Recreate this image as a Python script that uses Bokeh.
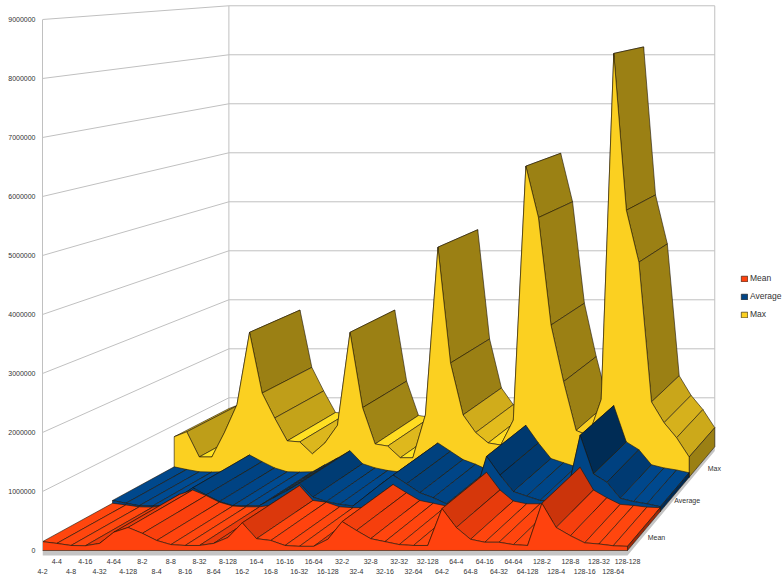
from bokeh.embed import file_html
from bokeh.resources import INLINE
from bokeh.plotting import figure
from bokeh.models import (ColumnDataSource, FixedTicker, Legend, LegendItem, LinearAxis,
                          NumeralTickFormatter, Range1d)
from bokeh.core.properties import value
import numpy as np

bases = [4, 8, 16, 32, 64, 128]
sizes = [2, 4, 8, 16, 32, 64, 128]
categories = [f"{b}-{s}" for b in bases for s in sizes]

mean_values = [150000, 120000, 85000, 80000, 120000, 310000, 390000,
               290000, 170000, 100000, 85000, 85000, 120000, 220000,
               470000, 200000, 170000, 85000, 70000, 70000, 190000,
               490000, 340000, 200000, 150000, 100000, 85000, 85000,
               710000, 390000, 190000, 140000, 140000, 100000, 85000,
               800000, 390000, 250000, 130000, 110000, 80000, 70000]
average_values = [200000, 150000, 105000, 100000, 105000, 270000, 430000,
                  300000, 180000, 105000, 100000, 105000, 240000, 370000,
                  510000, 260000, 180000, 130000, 100000, 290000, 480000,
                  660000, 500000, 340000, 250000, 140000, 100000, 200000,
                  1000000, 660000, 360000, 280000, 200000, 200000, 300000,
                  1380000, 680000, 530000, 240000, 180000, 140000, 87000]
max_values = [780000, 875000, 390000, 390000, 860000, 1400000, 2790000,
              1620000, 1140000, 700000, 680000, 450000, 660000, 1000000,
              2790000, 1340000, 640000, 600000, 375000, 375000, 1200000,
              4430000, 2200000, 1200000, 860000, 660000, 620000, 1100000,
              5990000, 5000000, 2930000, 1840000, 900000, 800000, 1500000,
              8160000, 5140000, 4140000, 1450000, 1050000, 760000, 390000]

series_names = ["Mean", "Average", "Max"]
series_values = [mean_values, average_values, max_values]
series_colors = [(255, 66, 14), (0, 69, 134), (251, 208, 33)]
value_ticks = list(range(0, 10000000, 1000000))

# Perspective: depth runs 0..1 from the front plane to the back wall and pulls
# every point toward one vanishing point, given in front-plane data units.
DEPTH_K = 0.204
VANISH_X = 77.1
VANISH_Y = 10373000
PX_PER_CAT = 14.268
LAST = len(categories) - 1


def project(i, v, d):
    s = 1.0 / (1.0 + DEPTH_K * d)
    return VANISH_X + (i - VANISH_X) * s, VANISH_Y + (v - VANISH_Y) * s


def shaded(rgb, slope):
    """Flat shading of a top face from its drop per category."""
    if slope > 20000:
        k = 0.92
    else:
        k = float(np.interp(-slope, [0, 50000, 230000, 450000, 700000, 1000000],
                            [1.10, 1.05, 0.88, 0.78, 0.64, 0.62]))
    return "#%02x%02x%02x" % tuple(min(255, int(c * k)) for c in rgb)


p = figure(width=784, height=579, output_backend="svg", toolbar_location=None,
           x_range=Range1d(0, (784 - 42) / PX_PER_CAT),
           y_range=Range1d(-101700, 9322000),
           x_axis_location=None, y_axis_location=None,
           min_border_left=42, min_border_right=0, min_border_top=0, min_border_bottom=23)
p.grid.visible = False
p.outline_line_color = None

WALL = "#c0c0c0"
FONT = "Liberation Sans"
INK = "#333333"
EDGE = "#1c1408"

# Side wall and back wall rules
xs, ys = [], []
for t in value_ticks:
    a, b, c = project(0, t, 0), project(0, t, 1), project(LAST, t, 1)
    xs.append([a[0], b[0], c[0]])
    ys.append([a[1], b[1], c[1]])
for i in (0, LAST):
    a, b = project(i, 0, 1), project(i, 9000000, 1)
    xs.append([a[0], b[0]])
    ys.append([a[1], b[1]])
p.multi_line(xs, ys, line_color=WALL, line_width=1)

# Floor slab
THICK = -85000
slab = [project(0, 0, 0), project(LAST, 0, 0), project(LAST, 0, 1),
        project(LAST, THICK, 1), project(LAST, THICK, 0), project(0, THICK, 0)]
p.patch([q[0] for q in slab], [q[1] for q in slab], fill_color="#c4c4c4", line_color=None)

# Series from the rear band to the front band; faces left to right, front wall last
bands = len(series_names)
front_renderers = {}
for n in reversed(range(bands)):
    vals = series_values[n]
    rgb = series_colors[n]
    d0, d1 = n / bands, (n + 1) / bands

    qx, qy, qc = [], [], []
    for i in range(LAST):
        a = project(i, vals[i], d0)
        b = project(i + 1, vals[i + 1], d0)
        c = project(i + 1, vals[i + 1], d1)
        e = project(i, vals[i], d1)
        qx.append([a[0], b[0], c[0], e[0]])
        qy.append([a[1], b[1], c[1], e[1]])
        qc.append(shaded(rgb, vals[i + 1] - vals[i]))
    p.patches("x", "y", fill_color="c", line_color=EDGE, line_width=0.6,
              source=ColumnDataSource(dict(x=qx, y=qy, c=qc)))

    cap = [project(LAST, 0, d0), project(LAST, vals[LAST], d0),
           project(LAST, vals[LAST], d1), project(LAST, 0, d1)]
    p.patch([q[0] for q in cap], [q[1] for q in cap], fill_color=shaded(rgb, -1000000),
            line_color=EDGE, line_width=0.6)

    fx, fy = [project(0, 0, d0)[0]], [project(0, 0, d0)[1]]
    for i in range(LAST + 1):
        q = project(i, vals[i], d0)
        fx.append(q[0])
        fy.append(q[1])
    q = project(LAST, 0, d0)
    fx.append(q[0])
    fy.append(q[1])
    front_renderers[n] = p.patch(fx, fy, fill_color="#%02x%02x%02x" % rgb,
                                 line_color=EDGE, line_width=0.6)

# Value axis along the front edge of the side wall
y_axis = LinearAxis(ticker=FixedTicker(ticks=value_ticks),
                    formatter=NumeralTickFormatter(format="0"),
                    bounds=(0, 9000000), axis_line_color=WALL, axis_line_width=1,
                    major_tick_line_color=None, minor_tick_line_color=None,
                    major_tick_out=0, major_tick_in=0, minor_tick_out=0, minor_tick_in=0,
                    major_label_standoff=7, major_label_text_font=FONT,
                    major_label_text_font_size="7px", major_label_text_color=INK)
p.add_layout(y_axis, "left")

# Category labels alternate between two rows
for start, standoff in ((1, 2), (0, 2)):
    ticks = list(range(start, LAST + 1, 2))
    axis = LinearAxis(ticker=FixedTicker(ticks=ticks),
                      major_label_overrides={t: categories[t] for t in ticks},
                      axis_line_color=None, major_tick_line_color=None,
                      minor_tick_line_color=None,
                      major_tick_out=0, major_tick_in=0, minor_tick_out=0, minor_tick_in=0,
                      major_label_standoff=standoff,
                      major_label_text_font=FONT, major_label_text_font_size="7px",
                      major_label_text_color=INK)
    p.add_layout(axis, "below")

# Depth axis names beside the floor
tx, ty = [], []
for n in range(bands):
    q = project(LAST, 0, (n + 0.5) / bands)
    tx.append(q[0])
    ty.append(q[1])
p.text(tx, ty, text=series_names, text_font=value(FONT), text_font_size="7px",
       text_color=INK, text_align="center", text_baseline="middle",
       x_offset=12, y_offset=7)

legend = Legend(items=[LegendItem(label=series_names[n], renderers=[front_renderers[n]])
                       for n in range(bands)],
                location=(698, 237), background_fill_alpha=0, border_line_color=None,
                label_text_font=FONT, label_text_font_size="8.5px", label_text_color=INK,
                glyph_width=8, glyph_height=7, spacing=8, padding=4, margin=0,
                label_standoff=2, label_height=8)
p.add_layout(legend, "center")

open("out.html", "w").write(file_html(p, INLINE))
